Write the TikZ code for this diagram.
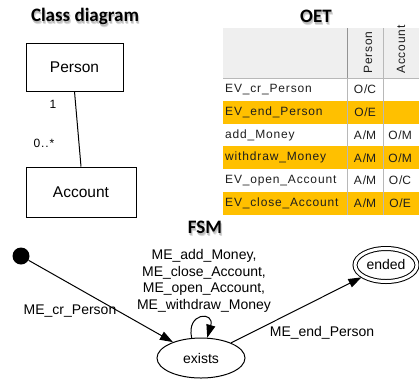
\documentclass[tikz,border=0pt]{standalone}
\usepackage{fontspec}
\setmainfont{Liberation Sans}
\newfontfamily\titlefont{Carlito}
\newfontfamily\cellfont{Liberation Sans}[LetterSpace=7]
\usetikzlibrary{shapes.geometric,arrows.meta}

\definecolor{rowgold}{HTML}{FFC000}
\definecolor{headgrey}{HTML}{EFEFEF}
\definecolor{gridgrey}{HTML}{B8B8B8}
\definecolor{inkgrey}{HTML}{1E1E1E}

% title text with a soft grey drop shadow set underneath it
\newcommand\shadowedtitle[1]{%
  \makebox[0pt][l]{\hspace*{1.4pt}\raisebox{-3.6pt}{\textcolor{black!14}{#1}}}%
  \makebox[0pt][l]{\hspace*{0.7pt}\raisebox{-2.4pt}{\textcolor{black!26}{#1}}}%
  #1}

\tikzset{
  ttl/.style={font=\titlefont\bfseries\fontsize{19}{22}\selectfont, inner sep=0pt, text=black},
  classbox/.style={draw, line width=1pt, rectangle, inner sep=0pt,
    font=\fontsize{15.5}{18}\selectfont},
  mult/.style={font=\cellfont\fontsize{12}{14}\selectfont, inner sep=0pt},
  celltext/.style={font=\cellfont\fontsize{12}{14}\selectfont, inner sep=0pt, text=inkgrey},
  headtext/.style={celltext, rotate=90, anchor=west},
  fsmlabel/.style={font=\fontsize{14}{16.7}\selectfont, inner sep=0pt, align=center},
  state/.style={draw, line width=1pt, ellipse, inner sep=0pt,
    font=\fontsize{14}{16.7}\selectfont},
  trans/.style={line width=1pt, -{Triangle[length=13pt,width=9pt]}}
}

\begin{document}
\begin{tikzpicture}[x=1pt,y=-1pt]
\useasboundingbox (0,0) rectangle (419,384);
\fill[white] (0,0) rectangle (419,384);

% ---- section titles ----
\node[ttl] (tClass) at (85,18) {\shadowedtitle{Class diagram}};
\node[ttl] (tOET)   at (316,18) {\shadowedtitle{OET}};
\node[ttl] (tFSM)   at (205,229) {\shadowedtitle{FSM}};

% ---- class diagram ----
\node[classbox, minimum width=97pt, minimum height=48pt] (person) at (74.5,67) {Person};
\node[classbox, minimum width=110pt, minimum height=50pt] (account) at (81,192) {Account};
\draw[line width=1pt] (person.south) -- (account.north);
\node[mult] (m1) at (53,104) {1};
\node[mult] (m2) at (44,143) {0..*};

% ---- OET table ----
% header band
\fill[headgrey] (223,28) rectangle (419,78);
% body rows (gold on every second row)
\foreach \r in {1,3,5} {
  \fill[rowgold] (223,{78+22.8*\r}) rectangle (419,{78+22.8*(\r+1)});
}
% grid lines
\draw[gridgrey, line width=0.8pt] (223,78) -- (419,78);
\draw[gridgrey!80!black, line width=0.8pt] (347,28) -- (347,78);
\draw[gridgrey, line width=0.8pt] (383,28) -- (383,78);
\draw[gridgrey, line width=0.8pt] (347,78) -- (347,214.8);
\draw[gridgrey, line width=0.8pt] (383,78) -- (383,214.8);

% column headings
\node[headtext] (hPerson)  at (368,74) {Person};
\node[headtext] (hAccount) at (401,74) {Account};

% rows: event, Person entry, Account entry
\foreach \ev/\pa/\ac [count=\i from 0] in {
  EV\_cr\_Person/O\slash C/,
  EV\_end\_Person/O\slash E/,
  add\_Money/A\slash M/O\slash M,
  withdraw\_Money/A\slash M/O\slash M,
  EV\_open\_Account/A\slash M/O\slash C,
  EV\_close\_Account/A\slash M/O\slash E} {
  \node[celltext, anchor=west] (ev\i) at (225,{89.4+22.8*\i}) {\ev};
  \node[celltext] (pa\i) at (365,{89.4+22.8*\i}) {\pa};
  \node[celltext] (ac\i) at (400,{89.4+22.8*\i}) {\ac};
}

% ---- FSM ----
\node[circle, fill=black, minimum size=17pt, inner sep=0pt] (init) at (21,256) {};
\node[state, minimum width=88pt, minimum height=40pt] (exists) at (201,358) {exists};
\node[state, double, double distance=3pt, minimum width=62pt, minimum height=33pt,
      outer sep=2pt] (ended) at (386,265) {\raisebox{1pt}{ended}};

\draw[trans] (init) -- (exists);
\draw[trans] (exists) -- (ended);
\draw[trans] (exists.115) .. controls (186,312) and (215,311) .. (exists.73);

\node[fsmlabel] (lcr) at (70,311) {ME\_cr\_Person};
\node[fsmlabel] (lend) at (322,333) {ME\_end\_Person};
\node[fsmlabel] (lloop) at (204,281) {ME\_add\_Money,\\ME\_close\_Account,\\ME\_open\_Account,\\ME\_withdraw\_Money};
\end{tikzpicture}
\end{document}
